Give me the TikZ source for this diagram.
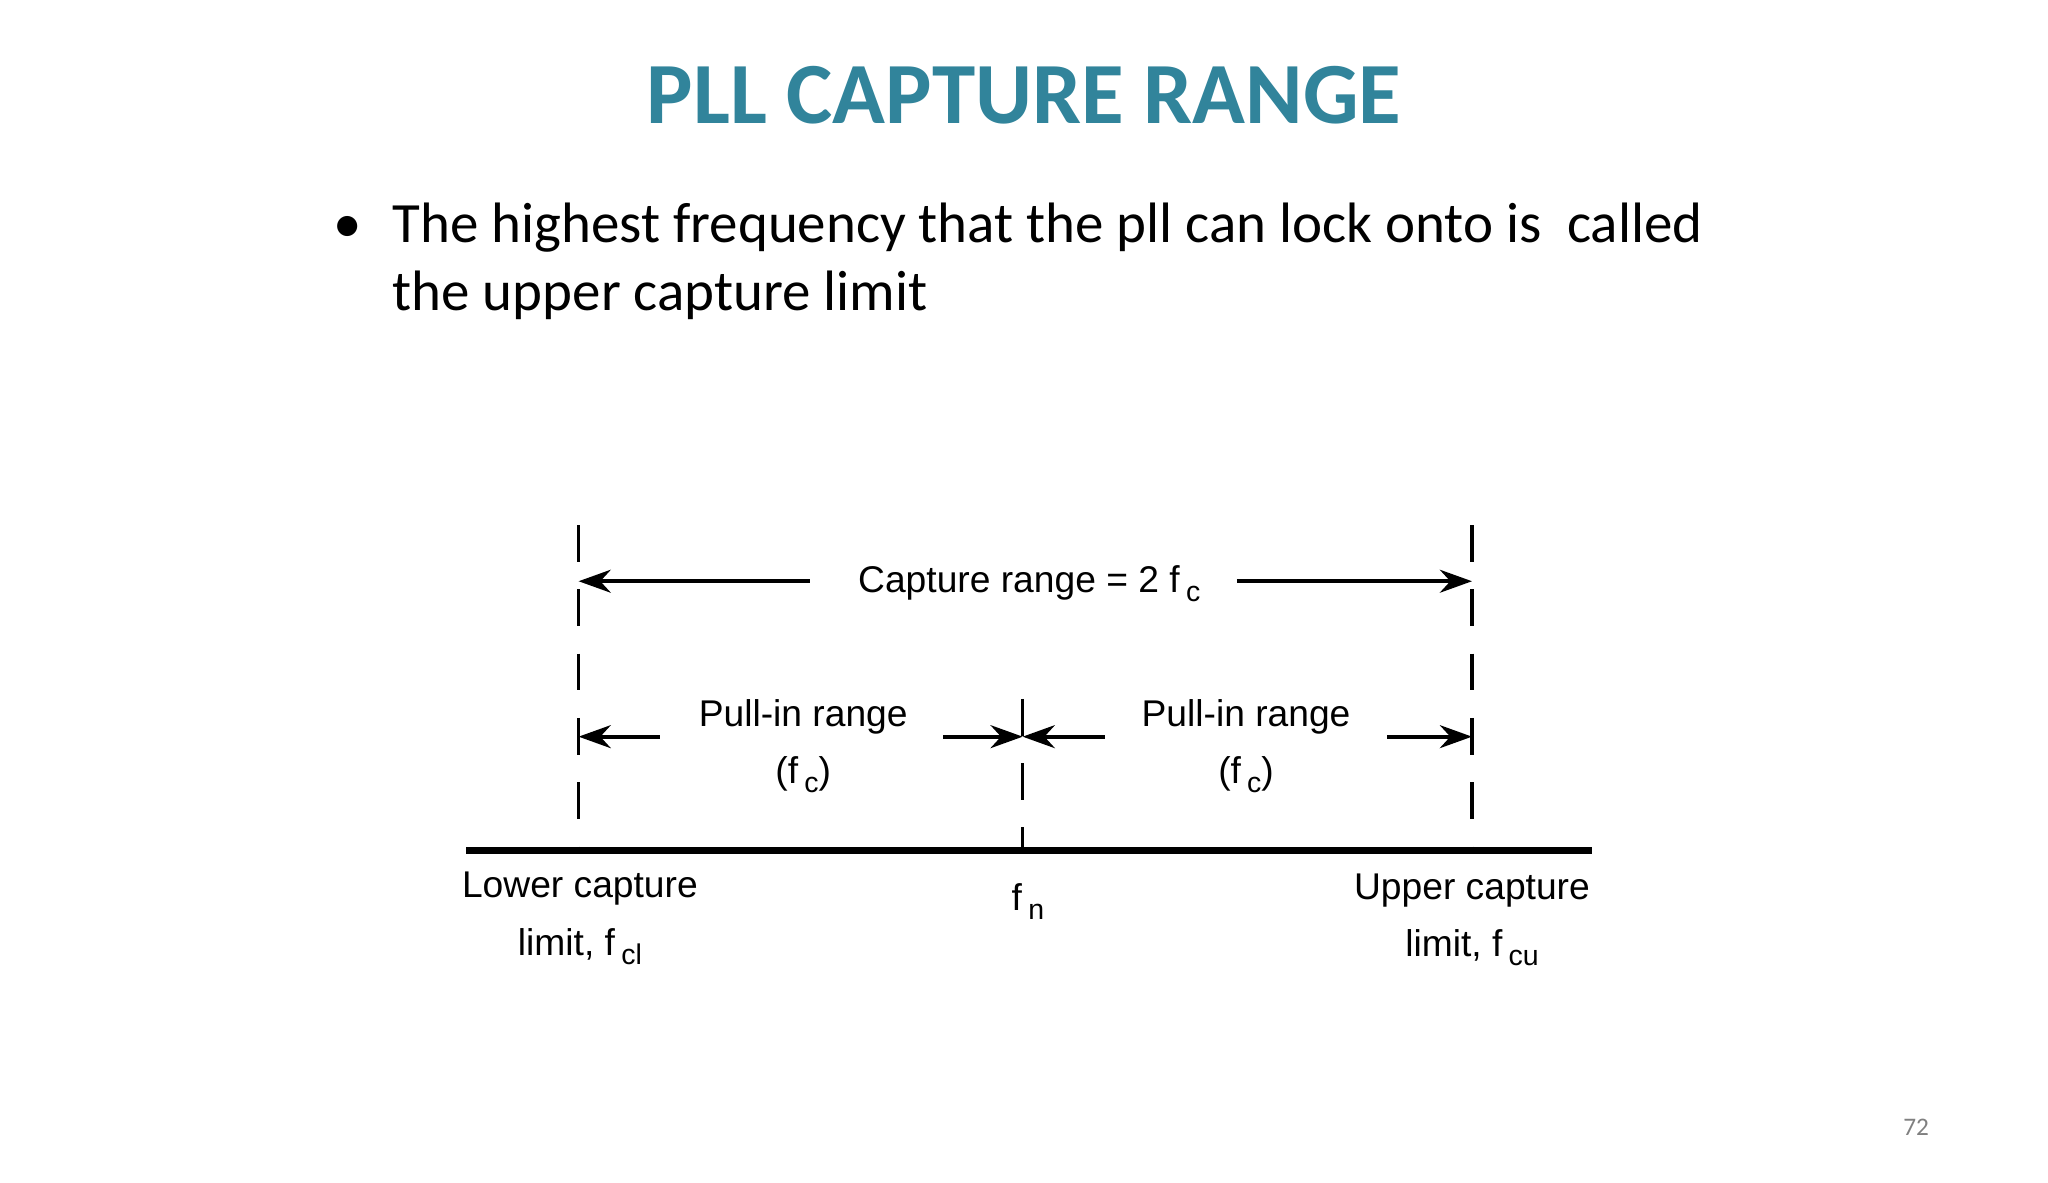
\documentclass[tikz,border=0pt]{standalone}
\usepackage{fontspec}
\setmainfont{Carlito}
\newfontfamily\diag{Liberation Sans}
\usetikzlibrary{arrows.meta}
\definecolor{teal1}{HTML}{31849B}
\newcommand\mysb[1]{\raisebox{-0.45ex}{\fontsize{6.2}{7}\selectfont #1}}
\tikzset{
  dline/.style={line width=0.7pt, dash pattern=on 8pt off 6pt},
  arr/.style={line width=0.8pt, -{Stealth[length=7pt,width=5pt]}},
  lbl/.style={font=\diag\fontsize{8.1}{9.5}\selectfont, inner sep=0pt, align=center},
}
\begin{document}
\begin{tikzpicture}[x=0.01cm,y=-0.01cm]
\path[fill=white] (0,0) rectangle (1568,905);
\node[font=\bfseries\fontsize{19}{22}\selectfont, text=teal1] (title) at (784,73) {PLL CAPTURE RANGE};
\node[anchor=base west, font=\fontsize{12.4}{15}\selectfont, inner sep=0pt] (bul) at (255,186) {•};
\node[anchor=base west, font=\fontsize{12.4}{15}\selectfont, inner sep=0pt] (l1) at (300,186) {The highest frequency that the pll can lock onto is\ \ called};
\node[anchor=base west, font=\fontsize{12.4}{15}\selectfont, inner sep=0pt] (l2) at (300,238) {the upper capture limit};
% diagram
\coordinate (b0) at (357,651); \coordinate (b1) at (1219,651);
\draw[line width=1.5pt] (b0) -- (b1);
\coordinate (Lt) at (443,402); \coordinate (Lb) at (443,651);
\coordinate (Mt) at (783,535); \coordinate (Mb) at (783,651);
\coordinate (Rt) at (1127,402); \coordinate (Rb) at (1127,651);
\draw[dline] (Lt) -- (Lb);
\draw[dline] (Mt) -- (Mb);
\draw[dline] (Rt) -- (Rb);
\node[lbl] (cap) at (788,447) {Capture range = 2 f\,\mysb{c}};
\coordinate (c1) at (620,445); \coordinate (c1e) at (443,445);
\coordinate (c2) at (947,445); \coordinate (c2e) at (1127,445);
\draw[arr] (c1) -- (c1e);
\draw[arr] (c2) -- (c2e);
\node[lbl] (p1) at (615,571) {Pull-in range\\[3pt](f\,\mysb{c})};
\node[lbl] (p2) at (954,571) {Pull-in range\\[3pt](f\,\mysb{c})};
\coordinate (a1) at (505,564); \coordinate (a1e) at (443,564);
\coordinate (a2) at (722,564); \coordinate (a2e) at (783,564);
\coordinate (a3) at (846,564); \coordinate (a3e) at (783,564);
\coordinate (a4) at (1062,564); \coordinate (a4e) at (1127,564);
\draw[arr] (a1) -- (a1e);
\draw[arr] (a2) -- (a2e);
\draw[arr] (a3) -- (a3e);
\draw[arr] (a4) -- (a4e);
\node[lbl] (lo) at (444,703) {Lower capture\\[3pt]limit, f\,\mysb{cl}};
\node[lbl] (fn) at (787,690) {f\,\mysb{n}};
\node[lbl] (up) at (1127,704) {Upper capture\\[3pt]limit, f\,\mysb{cu}};
\node[font=\fontsize{5.5}{6}\selectfont, text=gray] (pg) at (1467,863) {72};
\end{tikzpicture}
\end{document}
